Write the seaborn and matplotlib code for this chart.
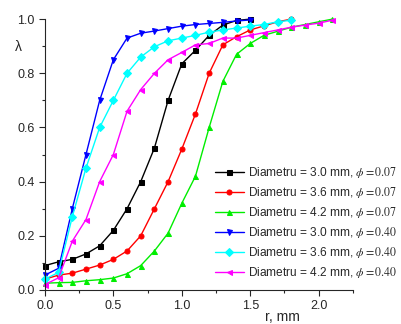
import numpy as np
import pandas as pd
import matplotlib
matplotlib.use("Agg")
import matplotlib.pyplot as plt
from matplotlib.ticker import MultipleLocator
import seaborn as sns

# ------------------ data ------------------ #
r_a = [0.0, 0.1, 0.2, 0.3, 0.4, 0.5, 0.6, 0.7, 0.8, 0.9, 1.0, 1.1, 1.2, 1.3, 1.4, 1.5]
r_b = r_a + [1.6, 1.7, 1.8]
r_c = r_b + [1.9, 2.0, 2.1]

d30_07 = [0.09, 0.104, 0.113, 0.133, 0.163, 0.22, 0.30, 0.40, 0.524, 0.70, 0.835, 0.885, 0.94, 0.978, 0.995, 1.0]
d36_07 = [0.04, 0.055, 0.062, 0.077, 0.092, 0.113, 0.144, 0.20, 0.30, 0.40, 0.52, 0.65, 0.80, 0.905, 0.935, 0.96, 0.975, 0.99, 1.0]
d42_07 = [0.025, 0.027, 0.028, 0.034, 0.038, 0.044, 0.06, 0.09, 0.144, 0.21, 0.32, 0.42, 0.60, 0.77, 0.87, 0.91,
          0.94, 0.955, 0.97, 0.98, 0.99, 1.0]
d30_40 = [0.055, 0.08, 0.30, 0.50, 0.70, 0.85, 0.93, 0.948, 0.956, 0.965, 0.974, 0.98, 0.984, 0.988, 0.993, 0.997]
d36_40 = [0.04, 0.065, 0.27, 0.45, 0.60, 0.70, 0.80, 0.86, 0.898, 0.92, 0.93, 0.94, 0.952, 0.96, 0.967, 0.974,
          0.98, 0.99, 0.996]
d42_40 = [0.02, 0.045, 0.18, 0.26, 0.40, 0.50, 0.66, 0.74, 0.80, 0.85, 0.877, 0.905, 0.91, 0.93, 0.93, 0.94,
          0.95, 0.96, 0.97, 0.978, 0.985, 0.996]

labels = [r"Diametru = 3.0 mm, $\phi = 0.07$",
          r"Diametru = 3.6 mm, $\phi = 0.07$",
          r"Diametru = 4.2 mm, $\phi = 0.07$",
          r"Diametru = 3.0 mm, $\phi = 0.40$",
          r"Diametru = 3.6 mm, $\phi = 0.40$",
          r"Diametru = 4.2 mm, $\phi = 0.40$"]
xs = [r_a, r_b, r_c, r_a, r_b, r_c]
ys = [d30_07, d36_07, d42_07, d30_40, d36_40, d42_40]
colors = ["#000000", "#ff0000", "#00ee00", "#0000ff", "#00ffff", "#ff00ff"]
markers = ["s", "o", "^", "v", "D", "<"]

# ------------------ plot ------------------ #
sns.set_style("ticks")
plt.rcParams["font.family"] = ["Liberation Sans", "DejaVu Sans"]
plt.rcParams["mathtext.fontset"] = "stix"

fig = plt.figure(figsize=(4.01, 3.24), dpi=100)
ax = fig.add_axes([0.112, 0.105, 0.768, 0.836])

for x, y, c, m, lab in zip(xs, ys, colors, markers, labels):
    df = pd.DataFrame({"r": x, "lam": y})
    sns.lineplot(data=df, x="r", y="lam", color=c, marker=m, markersize=3.6,
                 markeredgecolor=c, linewidth=1.0, label=lab, ax=ax, clip_on=False)

ax.set_xlim(0, 2.25)
ax.set_ylim(0, 1.0)
ax.xaxis.set_major_locator(MultipleLocator(0.5))
ax.xaxis.set_minor_locator(MultipleLocator(0.25))
ax.yaxis.set_major_locator(MultipleLocator(0.2))
ax.yaxis.set_minor_locator(MultipleLocator(0.1))
ax.xaxis.set_major_formatter(matplotlib.ticker.FormatStrFormatter("%.1f"))
ax.yaxis.set_major_formatter(matplotlib.ticker.FormatStrFormatter("%.1f"))
ax.tick_params(which="major", direction="out", length=4, width=0.8, labelsize=9)
ax.tick_params(which="minor", direction="out", length=2.5, width=0.8)
sns.despine(ax=ax)

ax.set_xlabel("r, mm", fontsize=10)
ax.xaxis.set_label_coords(0.77, -0.075)
ax.set_ylabel("λ", fontsize=10, rotation=0)
ax.yaxis.set_label_coords(-0.085, 0.87)

ax.legend(loc="upper left", bbox_to_anchor=(215 / 401, 1 - 165 / 324),
          bbox_transform=fig.transFigure, frameon=False, fontsize=8.6,
          handlelength=2.4, handletextpad=0.35, labelspacing=0.42,
          borderpad=0, borderaxespad=0)

fig.savefig("out.png", dpi=100)
